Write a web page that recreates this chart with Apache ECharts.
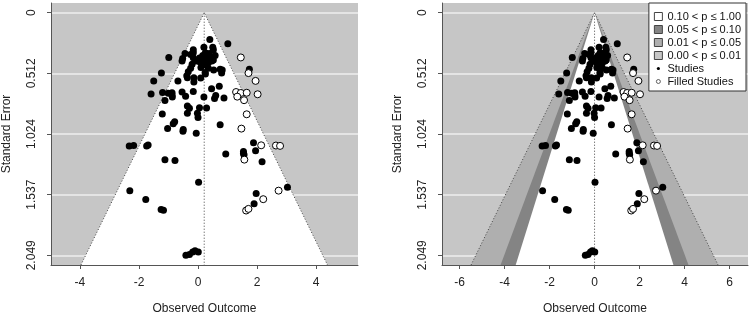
<!DOCTYPE html>
<html>
<head>
<meta charset="utf-8">
<script src="https://cdn.jsdelivr.net/npm/echarts@6/dist/echarts.min.js"></script>
<style>
html, body { margin: 0; padding: 0; background: #fff; }
#main { width: 750px; height: 320px; }
</style>
</head>
<body>
<div id="main"></div>
<script>
// observed studies: [observed outcome, standard error]
var studies = [
    [0.40,0.226],[1.01,0.262],[-0.16,0.312],[0.20,0.292],[0.50,0.292],[0.52,0.312],[-0.44,0.345],[-0.16,0.339],
    [0.25,0.339],[0.38,0.345],[0.58,0.361],[-0.99,0.378],[-0.52,0.386],[-0.54,0.408],[-0.16,0.381],[0.16,0.394],
    [0.29,0.389],[0.43,0.394],[0.07,0.416],[0.20,0.422],[0.47,0.408],[-0.20,0.436],[0.29,0.444],[0.75,0.477],
    [0.82,0.483],[-0.25,0.469],[0.10,0.463],[0.35,0.469],[-1.24,0.510],[1.74,0.477],[-1.50,0.576],[-0.68,0.576],
    [-0.36,0.549],[-0.14,0.585],[0.09,0.552],[0.25,0.518],[0.53,0.483],[0.72,0.621],[0.46,0.643],[-1.59,0.687],
    [-1.20,0.673],[-1.01,0.681],[-1.12,0.742],[-0.87,0.712],[-0.54,0.670],[-0.42,0.706],[-0.16,0.665],[0.20,0.712],
    [0.56,0.725],[0.88,0.720],[-0.88,0.676],[-0.36,0.789],[-0.29,0.808],[-0.36,0.849],[0.05,0.803],[0.29,0.805],
    [-1.21,0.855],[-0.02,0.849],[0.00,0.885],[-0.79,0.921],[-0.84,0.938],[-1.03,0.979],[-0.50,0.987],[-0.51,1.001],
    [-0.06,1.018],[0.75,0.946],[-2.33,1.125],[-2.18,1.122],[-1.74,1.125],[-1.69,1.117],[-1.12,1.241],[-0.78,1.249],
    [0.94,1.194],[1.54,1.172],[1.54,1.189],[1.56,1.200],[1.88,1.098],[1.95,1.167],[2.17,1.258],[0.02,1.431],
    [-2.31,1.503],[-1.77,1.577],[-1.25,1.663],[-1.17,1.669],[3.03,1.475],[1.97,1.528],[1.90,1.613],
    [-0.41,2.049],[-0.29,2.043],[-0.18,2.021],[-0.10,2.010],[0.01,2.021],
    [0.05,0.383],[-0.05,0.408],[0.35,0.422],[0.52,0.400],[-0.33,0.499],[0.24,0.505],[0.80,0.510],[-0.38,0.532],
    [0.16,0.361],[-0.25,0.353],[-0.88,0.696],[-0.14,0.550],[0.60,0.700]
];
// trim-and-fill imputed studies
var filled = [
    [1.45,0.378],[1.71,0.510],[1.95,0.576],[1.29,0.670],[1.45,0.678],[1.65,0.676],[1.33,0.709],[2.02,0.689],
    [1.56,0.739],[1.65,0.858],[1.47,0.979],[2.14,1.120],[2.64,1.122],[2.78,1.125],[1.57,1.241],[2.73,1.503],
    [2.21,1.575],[1.63,1.671],[1.71,1.657]
];
var seTicks = [0, 0.51225, 1.0245, 1.53675, 2.049];
var seLabels = ['0', '0.512', '1.024', '1.537', '2.049'];
var leftTicks = [-4, -2, 0, 2, 4];
var rightTicks = [-6, -4, -2, 0, 2, 4, 6];
var estLeft = 0.21;
var estRight = 0;
var seMax = 2.131;
var bandNames = ['0.10 < p ≤ 1.00', '0.05 < p ≤ 0.10', '0.01 < p ≤ 0.05', '0.00 < p ≤ 0.01'];
var bandZ = [1.645, 1.96, 2.576];

var font = 'Liberation Sans, Arial, sans-serif';
var bgGrey = '#c6c6c6';

function funnelRender(fill, dotted, centre) {
    return function (params, api) {
        var est = api.value(0), z = api.value(1);
        var a = api.coord([est - z * seMax, seMax]);
        var b = api.coord([est, 0]);
        var c = api.coord([est + z * seMax, seMax]);
        var kids = [];
        if (fill) kids.push({ type: 'polygon', shape: { points: [a, b, c] }, style: { fill: fill } });
        if (dotted) kids.push({ type: 'polyline', shape: { points: [a, b, c] },
            style: { stroke: '#444', lineWidth: 1, lineDash: [1, 2], fill: null } });
        if (centre) kids.push({ type: 'line', shape: { x1: b[0], y1: b[1], x2: b[0], y2: api.coord([est, seMax])[1] },
            style: { stroke: '#444', lineWidth: 1, lineDash: [1, 2] } });
        return { type: 'group', children: kids };
    };
}

function xAxisCfg(idx, min, max, ticks) {
    return {
        gridIndex: idx, type: 'value', min: min, max: max,
        name: 'Observed Outcome', nameLocation: 'middle', nameGap: 38,
        nameTextStyle: { fontFamily: font, fontSize: 12, color: '#222' },
        axisLine: { show: true, onZero: false, lineStyle: { color: '#555' } },
        axisTick: { show: true, length: 4, customValues: ticks, lineStyle: { color: '#555' } },
        axisLabel: { customValues: ticks, margin: 12, fontFamily: font, fontSize: 12, color: '#222' },
        splitLine: { show: false }
    };
}

function yAxisCfg(idx) {
    return {
        gridIndex: idx, type: 'value', inverse: true, min: -0.082, max: seMax,
        name: 'Standard Error', nameLocation: 'middle', nameGap: 38, nameRotate: 90,
        nameTextStyle: { fontFamily: font, fontSize: 12, color: '#222' },
        axisLine: { show: true, onZero: false, lineStyle: { color: '#555' } },
        axisTick: { show: true, length: 4, customValues: seTicks, lineStyle: { color: '#555' } },
        axisLabel: {
            customValues: seTicks, rotate: 90, margin: 13, fontFamily: font, fontSize: 12, color: '#222',
            formatter: function (v) { return seLabels[seTicks.indexOf(v)]; }
        },
        splitLine: { show: true, lineStyle: { color: '#eeeeee', width: 1.5 } }
    };
}

var chart = echarts.init(document.getElementById('main'), null, { renderer: 'canvas' });

var option = {
    animation: false,
    backgroundColor: '#fff',
    grid: [
        { left: 51, right: 392, top: 3, bottom: 50, show: true, backgroundColor: bgGrey, borderWidth: 0 },
        { left: 442, right: 2, top: 3, bottom: 50, show: true, backgroundColor: bgGrey, borderWidth: 0 }
    ],
    xAxis: [xAxisCfg(0, -4.98, 5.42, leftTicks), xAxisCfg(1, -6.78, 6.82, rightTicks)],
    yAxis: [yAxisCfg(0), yAxisCfg(1)],
    legend: {
        orient: 'vertical', right: 4, top: 3,
        padding: [8, 5, 4, 5], itemGap: 2, itemWidth: 8, itemHeight: 8,
        borderColor: '#333', borderWidth: 1, backgroundColor: '#fff', borderRadius: 0,
        textStyle: { fontFamily: font, fontSize: 11, color: '#111', lineHeight: 11 },
        selectedMode: false,
        data: [
            { name: bandNames[0], icon: 'rect', itemStyle: { borderColor: '#444', borderWidth: 1 } },
            { name: bandNames[1], icon: 'rect', itemStyle: { borderColor: '#444', borderWidth: 1 } },
            { name: bandNames[2], icon: 'rect', itemStyle: { borderColor: '#444', borderWidth: 1 } },
            { name: bandNames[3], icon: 'rect', itemStyle: { borderColor: '#444', borderWidth: 1 } },
            { name: 'Studies', icon: 'path://M0,0M10,10M3,5A2,2 0 1,0 7,5A2,2 0 1,0 3,5Z' },
            { name: 'Filled Studies', icon: 'path://M0,0M10,10M2.5,5A2.5,2.5 0 1,0 7.5,5A2.5,2.5 0 1,0 2.5,5Z',
              itemStyle: { borderWidth: 0.7, borderColor: '#222' } }
        ]
    },
    series: [
        // left panel: trim-and-fill funnel
        { type: 'custom', xAxisIndex: 0, yAxisIndex: 0, silent: true,
          renderItem: funnelRender('#fff', true, true), data: [[estLeft, 1.96]] },
        { name: 'Studies', type: 'scatter', xAxisIndex: 0, yAxisIndex: 0, symbolSize: 7,
          itemStyle: { color: '#000', opacity: 1 }, data: studies },
        { name: 'Filled Studies', type: 'scatter', xAxisIndex: 0, yAxisIndex: 0, symbolSize: 7,
          itemStyle: { color: '#fff', borderColor: '#000', borderWidth: 1, opacity: 1 }, data: filled },

        // right panel: contour-enhanced funnel
        { name: bandNames[3], type: 'custom', xAxisIndex: 1, yAxisIndex: 1, silent: true,
          itemStyle: { color: bgGrey },
          renderItem: function () { return { type: 'group', children: [] }; }, data: [[estRight, 0]] },
        { name: bandNames[2], type: 'custom', xAxisIndex: 1, yAxisIndex: 1, silent: true,
          itemStyle: { color: '#afafaf' },
          renderItem: funnelRender('#afafaf', true, false), data: [[estRight, bandZ[2]]] },
        { name: bandNames[1], type: 'custom', xAxisIndex: 1, yAxisIndex: 1, silent: true,
          itemStyle: { color: '#848484' },
          renderItem: funnelRender('#848484', false, false), data: [[estRight, bandZ[1]]] },
        { name: bandNames[0], type: 'custom', xAxisIndex: 1, yAxisIndex: 1, silent: true,
          itemStyle: { color: '#fff' },
          renderItem: funnelRender('#fff', false, true), data: [[estRight, bandZ[0]]] },
        { name: 'Studies', type: 'scatter', xAxisIndex: 1, yAxisIndex: 1, symbolSize: 7,
          itemStyle: { color: '#000', opacity: 1 }, data: studies },
        { name: 'Filled Studies', type: 'scatter', xAxisIndex: 1, yAxisIndex: 1, symbolSize: 7,
          itemStyle: { color: '#fff', borderColor: '#000', borderWidth: 1, opacity: 1 }, data: filled }
    ]
};

chart.setOption(option);
</script>
</body>
</html>
